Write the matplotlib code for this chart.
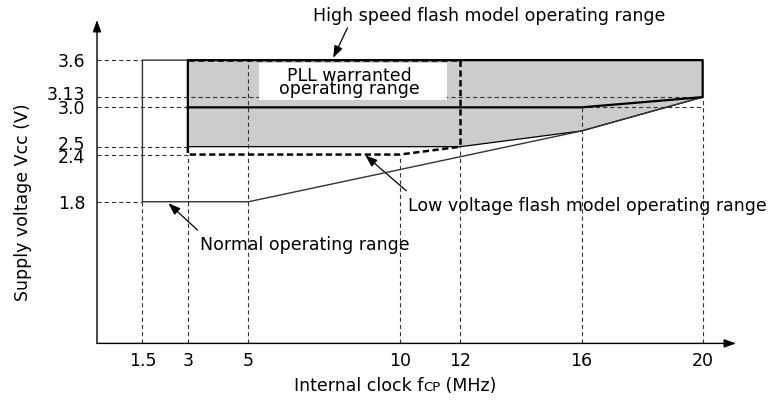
import matplotlib.pyplot as plt
from matplotlib.patches import Rectangle
from matplotlib.transforms import ScaledTranslation

plt.rcParams['font.family'] = 'DejaVu Sans'
plt.rcParams['lines.scale_dashes'] = False

# Tick values: internal clock (MHz) and supply voltage (V)
freq_ticks = [1.5, 3, 5, 10, 12, 16, 20]
freq_labels = ['1.5', '3', '5', '10', '12', '16', '20']
volt_ticks = [3.6, 3.13, 3.0, 2.5, 2.4, 1.8]
volt_labels = ['3.6', '3.13', '3.0', '2.5', '2.4', '1.8']

# Normal operating range outline
normal_f = [3, 1.5, 1.5, 5, 16, 20]
normal_v = [3.6, 3.6, 1.8, 1.8, 2.7, 3.13]

# Shaded area
shade_f = [3, 12, 16, 20, 20, 3]
shade_v = [2.5, 2.5, 2.7, 3.13, 3.6, 3.6]

# PLL warranted operating range
pll_f = [3, 3, 20, 20, 16, 3]
pll_v = [2.5, 3.6, 3.6, 3.13, 3.0, 3.0]

# High speed flash model operating range
hs_f = [3, 12, 12]
hs_v = [3.6, 3.6, 2.5]

# Low voltage flash model operating range
lv_f = [3, 3, 10, 12]
lv_v = [2.5, 2.4, 2.4, 2.5]

# Dashed guides from the axes up to the curves
hguide_v = [3.6, 3.13, 3.0, 2.5, 2.4, 1.8]
hguide_end = [1.5, 20, 20, 3, 3, 1.5]
vguide_f = [1.5, 3, 5, 10, 12, 16, 20]
vguide_end = [1.8, 2.4, 3.6, 2.4, 2.5, 3.0, 3.13]

FS = 12.5
guide_ls = (0, (3, 2.2))

fig = plt.figure(figsize=(7.7, 4.04), dpi=100)
ax = fig.add_axes([97 / 770, 60.6 / 404, 639 / 770, 323.4 / 404])
ax.set_xlim(0, 21.1)
ax.set_ylim(0, 4.11)

ax.fill(shade_f, shade_v, color='#cccccc', lw=0, zorder=1)
ax.hlines(hguide_v, 0, hguide_end, colors='#333333', lw=0.8,
          linestyles=[guide_ls], zorder=2)
ax.vlines(vguide_f, 0, vguide_end, colors='#333333', lw=0.8,
          linestyles=[guide_ls], zorder=2)

# white label box inside the PLL range
ax.add_patch(Rectangle((5.36, 3.09), 6.21, 0.47, facecolor='white',
                       edgecolor='none', zorder=3))
ax.text(8.33, 3.338, 'PLL warranted', ha='center', va='baseline',
        fontsize=FS, zorder=7)
ax.text(8.33, 3.165, 'operating range', ha='center', va='baseline',
        fontsize=FS, zorder=7)

ax.plot(shade_f[:4], shade_v[:4], color='black', lw=0.9, zorder=4)
ax.plot(normal_f, normal_v, color='#333333', lw=1.0, zorder=4)
ax.plot(hs_f, hs_v, color='black', lw=1.8, dashes=(4.5, 2.5), zorder=5)
ax.plot(lv_f, lv_v, color='black', lw=1.8, dashes=(4.5, 2.5), zorder=5)
ax.plot(pll_f, pll_v, color='black', lw=1.6, zorder=6)

# callouts
arrow = dict(arrowstyle='-|>,head_length=0.6,head_width=0.22',
             color='black', lw=0.9, mutation_scale=12, shrinkA=0, shrinkB=0)
ax.annotate('', xy=(7.8, 3.63), xytext=(8.27, 4.01), arrowprops=arrow,
            annotation_clip=False)
ax.annotate('', xy=(8.86, 2.39), xytext=(10.21, 1.94), arrowprops=arrow)
ax.annotate('', xy=(2.36, 1.78), xytext=(3.32, 1.44), arrowprops=arrow)
ax.text(12.95, 4.16, 'High speed flash model operating range',
        ha='center', va='center', fontsize=FS, clip_on=False)
ax.text(16.2, 1.745, 'Low voltage flash model operating range',
        ha='center', va='center', fontsize=FS, clip_on=False)
ax.text(6.86, 1.25, 'Normal operating range', ha='center', va='center',
        fontsize=FS)

# axes drawn as arrows
for s in ax.spines.values():
    s.set_visible(False)
axis_arrow = dict(arrowstyle='-|>,head_length=0.7,head_width=0.25',
                  color='black', lw=1.0, mutation_scale=10,
                  shrinkA=0, shrinkB=0)
ax.annotate('', xy=(1, 0), xytext=(0, 0), xycoords='axes fraction',
            arrowprops=axis_arrow, annotation_clip=False)
ax.annotate('', xy=(0, 1), xytext=(0, 0), xycoords='axes fraction',
            arrowprops=axis_arrow, annotation_clip=False)

ax.set_xticks(freq_ticks, freq_labels)
ax.set_yticks(volt_ticks, volt_labels)
ax.tick_params(length=0, labelsize=FS)
ax.tick_params(axis='x', pad=6.5)
ax.tick_params(axis='y', pad=8.5)

# nudge crowded voltage labels apart
nudge = {'3.13': 4, '2.5': 4, '2.4': -1}
for lab in ax.get_yticklabels():
    dy = nudge.get(lab.get_text(), 0)
    if dy:
        lab.set_transform(lab.get_transform()
                          + ScaledTranslation(0, dy / 100, fig.dpi_scale_trans))

ax.set_ylabel('Supply voltage Vcc (V)', fontsize=FS)
ax.yaxis.set_label_coords(-0.102, 0.436)

# x label with small-caps subscript letters
xt = ax.get_xaxis_transform()
t1 = ax.text(6.49, -0.147, 'Internal clock f', transform=xt,
             ha='left', va='baseline', fontsize=FS)
t2 = ax.annotate('CP', xy=(1, -0.147), xycoords=(t1, ax.transAxes),
                 ha='left', va='baseline', fontsize=9.5)
ax.annotate(' (MHz)', xy=(1, -0.147), xycoords=(t2, ax.transAxes),
            ha='left', va='baseline', fontsize=FS)

fig.savefig('out.png', dpi=100)
